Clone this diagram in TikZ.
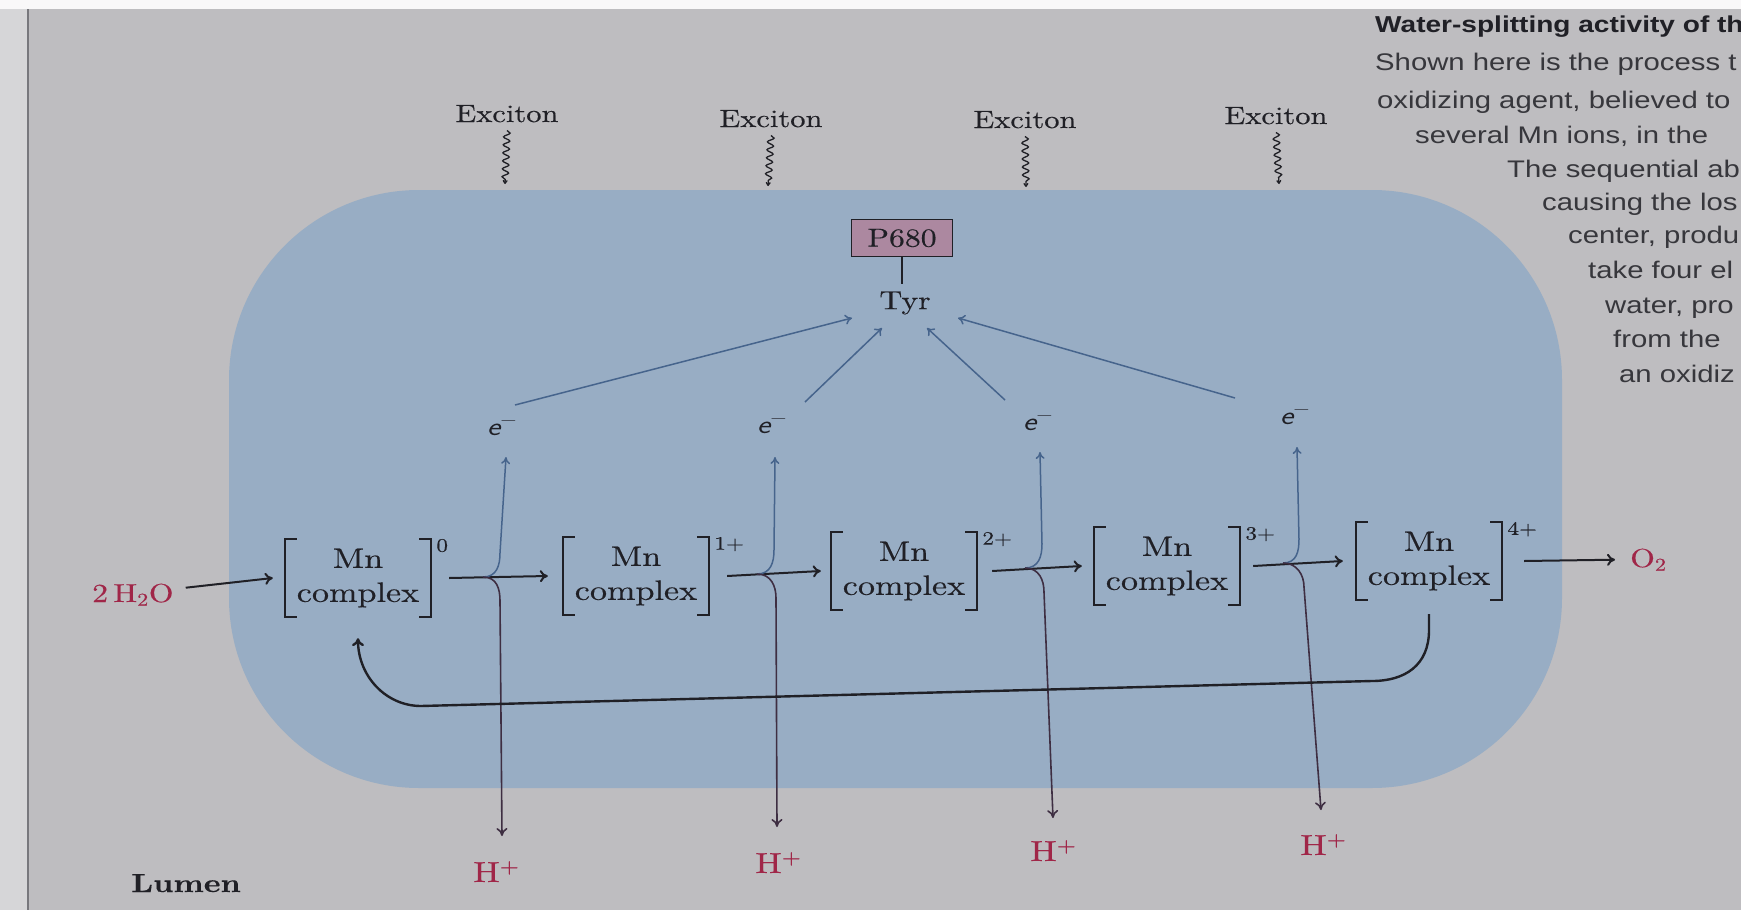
\documentclass[tikz,border=0pt]{standalone}
\usepackage{graphicx}
\usepackage{fontspec}
\setmainfont{lmroman10-regular.otf}[FakeBold=0.3, BoldFont=lmroman10-bold.otf, ItalicFont=lmroman10-italic.otf]
\newfontfamily\capfont{Liberation Sans}
\usetikzlibrary{arrows.meta,decorations.pathmorphing,calc}
\definecolor{pagecol}{RGB}{190,189,192}
\definecolor{margcol}{RGB}{214,214,216}
\definecolor{memb}{RGB}{152,173,196}
\definecolor{ink}{RGB}{32,32,38}
\definecolor{redink}{RGB}{160,38,72}
\definecolor{blueink}{RGB}{70,100,140}
\definecolor{downink}{RGB}{62,46,66}
\definecolor{mauve}{RGB}{172,136,160}
\definecolor{capink}{RGB}{55,55,60}
\newcommand\sx[1]{\scalebox{1.22}[1]{#1}}
\newcommand\fs[1]{\fontsize{#1}{#1}\selectfont}
\begin{document}
\begin{tikzpicture}[x=1pt,y=-1pt,
  txt/.style={inner sep=0pt, text=ink},
  exlbl/.style={txt, anchor=base, font=\fs{25}},
  cplx/.style={txt, font=\fontsize{28}{34}\selectfont, align=center, minimum width=146pt, minimum height=78pt},
  brk/.style={draw=ink, line width=1.6pt},
  chg/.style={txt, anchor=north west, font=\fs{19}},
  harr/.style={draw=ink, line width=2pt, -{To[length=8pt,width=12pt]}},
  uparr/.style={draw=blueink, line width=1.5pt, -{To[length=7pt,width=9pt]}},
  dnarr/.style={draw=downink, line width=1.6pt, -{To[length=8pt,width=11pt]}},
  tyrarr/.style={draw=blueink, line width=1.5pt, -{To[length=7pt,width=10pt]}},
  wave/.style={draw=ink, line width=1.3pt, decorate, decoration={snake, amplitude=3.2pt, segment length=8pt, post length=4pt}, -{To[length=4pt,width=5pt]}},
  ret/.style={draw=ink, line width=2.4pt, -{To[length=8pt,width=12pt]}},
  redlbl/.style={txt, text=redink, anchor=base west},
  elbl/.style={txt, anchor=base west, font=\fs{26}},
  capline/.style={inner sep=0pt, anchor=base west, text=capink, font=\capfont\fs{24}},
]
\useasboundingbox (0,0) rectangle (1741,910);
% page
\fill[pagecol] (0,0) rectangle (1741,910);
\fill[margcol] (0,0) rectangle (27,910);
\fill[white!90!pagecol] (0,0) rectangle (1741,9);
\draw[draw={rgb,255:red,120;green,120;blue,125}, line width=1.5pt] (28,9) -- (28,910);
% membrane
\fill[memb, rounded corners=190pt] (229,190) rectangle (1562,788);

% excitons
\node[exlbl] (ex1) at (507,122) {\sx{Exciton}};
\node[exlbl] (ex2) at (771,127) {\sx{Exciton}};
\node[exlbl] (ex3) at (1025,128) {\sx{Exciton}};
\node[exlbl] (ex4) at (1276,124) {\sx{Exciton}};
\coordinate (w1) at (505,184);
\coordinate (w2) at (768,186);
\coordinate (w3) at (1026,187);
\coordinate (w4) at (1279,184);
\draw[wave] ([yshift=-8pt]ex1.south) -- (w1);
\draw[wave] ([yshift=-8pt]ex2.south) -- (w2);
\draw[wave] ([yshift=-8pt]ex3.south) -- (w3);
\draw[wave] ([yshift=-8pt]ex4.south) -- (w4);

% P680 and Tyr
\node[draw=ink, fill=mauve, line width=1.4pt, minimum width=101pt, minimum height=37pt, inner sep=0pt, font=\fs{26}, text=ink] (p680) at (902,238) {\sx{P680}};
\node[txt, font=\fs{26}] (tyr) at (905,303) {\sx{Tyr}};
\draw[draw=ink, line width=1.4pt, shorten >=7pt] (p680.south) -- (p680.south |- tyr.north);

% electrons
\node[elbl] (e1) at (487,435) {\sx{\sffamily\itshape e}\textsuperscript{\sx{\sffamily −}}};
\node[elbl] (e2) at (757,433) {\sx{\sffamily\itshape e}\textsuperscript{\sx{\sffamily −}}};
\node[elbl] (e3) at (1023,430) {\sx{\sffamily\itshape e}\textsuperscript{\sx{\sffamily −}}};
\node[elbl] (e4) at (1280,424) {\sx{\sffamily\itshape e}\textsuperscript{\sx{\sffamily −}}};
\coordinate (s1) at (515,405); \coordinate (t1) at (852,318);
\coordinate (s2) at (805,402); \coordinate (t2) at (882,328);
\coordinate (s3) at (1005,400); \coordinate (t3) at (927,328);
\coordinate (s4) at (1235,398); \coordinate (t4) at (958,318);
\draw[tyrarr] (s1) -- (t1);
\draw[tyrarr] (s2) -- (t2);
\draw[tyrarr] (s3) -- (t3);
\draw[tyrarr] (s4) -- (t4);

% Mn complexes
\node[cplx] (c0) at (358,578) {\sx{Mn}\\\sx{complex}};
\node[cplx] (c1) at (636,576) {\sx{Mn}\\\sx{complex}};
\node[cplx] (c2) at (904,571) {\sx{Mn}\\\sx{complex}};
\node[cplx] (c3) at (1167,566) {\sx{Mn}\\\sx{complex}};
\node[cplx] (c4) at (1429,561) {\sx{Mn}\\\sx{complex}};
\foreach \c in {c0,c1,c2,c3,c4}{
  \draw[brk] ([xshift=12pt]\c.north west) -- (\c.north west) -- (\c.south west) -- ([xshift=12pt]\c.south west);
  \draw[brk] ([xshift=-12pt]\c.north east) -- (\c.north east) -- (\c.south east) -- ([xshift=-12pt]\c.south east);
}
\node[chg] (q0) at ([xshift=5pt]c0.north east) {\sx{0}};
\node[chg] (q1) at ([xshift=5pt]c1.north east) {\sx{1+}};
\node[chg] (q2) at ([xshift=5pt]c2.north east) {\sx{2+}};
\node[chg] (q3) at ([xshift=5pt]c3.north east) {\sx{3+}};
\node[chg] (q4) at ([xshift=5pt]c4.north east) {\sx{4+}};

% water and oxygen
\node[redlbl, font=\fs{26}] (h2o) at (92,602) {\sx{2\,H\textsubscript{2}O}};
\node[redlbl, font=\fs{26}] (o2) at (1630,567) {\sx{O\textsubscript{2}}};

% main arrows
\draw[harr] ([xshift=12pt,yshift=7pt]h2o.east) -- ([xshift=-12pt]c0.west);
\draw[harr] ([xshift=18pt]c0.east) -- ([xshift=-15pt]c1.west);
\draw[harr] ([xshift=18pt]c1.east) -- ([xshift=-10pt]c2.west);
\draw[harr] ([xshift=15pt]c2.east) -- ([xshift=-12pt]c3.west);
\draw[harr] ([xshift=13pt]c3.east) -- ([xshift=-13pt]c4.west);
\draw[harr] ([xshift=22pt]c4.east) -- ([xshift=-15pt]o2.west);

% branches
\coordinate (b1) at (483,577); \coordinate (u1) at (506,457); \coordinate (d1) at (502,836);
\coordinate (b2) at (757,574); \coordinate (u2) at (775,457); \coordinate (d2) at (777,827);
\coordinate (b3) at (1025,568); \coordinate (u3) at (1040,452); \coordinate (d3) at (1053,818);
\coordinate (b4) at (1283,563); \coordinate (u4) at (1297,447); \coordinate (d4) at (1321,810);
\draw[uparr] (b1) .. controls +(14,0) and +(0,12) .. (500,553) -- (u1);
\draw[dnarr] (b1) .. controls +(14,0) and +(0,-12) .. (500,601) -- (d1);
\draw[uparr] (b2) .. controls +(14,0) and +(0,12) .. (774,550) -- (u2);
\draw[dnarr] (b2) .. controls +(14,0) and +(0,-12) .. (776,598) -- (d2);
\draw[uparr] (b3) .. controls +(14,0) and +(0,12) .. (1042,544) -- (u3);
\draw[dnarr] (b3) .. controls +(14,0) and +(0,-12) .. (1044,592) -- (d3);
\draw[uparr] (b4) .. controls +(14,0) and +(0,12) .. (1299,539) -- (u4);
\draw[dnarr] (b4) .. controls +(14,0) and +(0,-12) .. (1304,587) -- (d4);

% protons
\node[redlbl, font=\fs{29}] (h1) at (473,882) {\sx{H\textsuperscript{+}}};
\node[redlbl, font=\fs{29}] (h2) at (755,873) {\sx{H\textsuperscript{+}}};
\node[redlbl, font=\fs{29}] (h3) at (1030,861) {\sx{H\textsuperscript{+}}};
\node[redlbl, font=\fs{29}] (h4) at (1300,855) {\sx{H\textsuperscript{+}}};

% return arrow
\draw[ret] ([yshift=-14pt]c4.south) -- ++(0,16) .. controls +(0,35) and +(33,0) .. (1372,681) -- (421,706) .. controls +(-35,0) and +(0,38) .. ([yshift=-21pt]c0.south);

% lumen
\node[txt, anchor=base west, font=\bfseries\fs{26}] (lumen) at (131,892) {\sx{Lumen}};

% caption (cut at the page edge)
\begin{scope}
\clip (0,0) rectangle (1741,910);
\node[capline, font=\capfont\bfseries\fs{23}, text=ink] (cap1) at (1375,32) {\sx{Water-splitting activity of th}};
\node[capline] (cap2) at (1375,70) {\sx{Shown here is the process t}};
\node[capline] (cap3) at (1377,108) {\sx{oxidizing agent, believed to}};
\node[capline] (cap4) at (1415,143) {\sx{several Mn ions, in the}};
\node[capline] (cap5) at (1507,177) {\sx{The sequential ab}};
\node[capline] (cap6) at (1542,210) {\sx{causing the los}};
\node[capline] (cap7) at (1568,243) {\sx{center, produ}};
\node[capline] (cap8) at (1588,278) {\sx{take four el}};
\node[capline] (cap9) at (1605,313) {\sx{water, pro}};
\node[capline] (cap10) at (1613,347) {\sx{from the}};
\node[capline] (cap11) at (1619,382) {\sx{an oxidiz}};
\end{scope}
\end{tikzpicture}
\end{document}
